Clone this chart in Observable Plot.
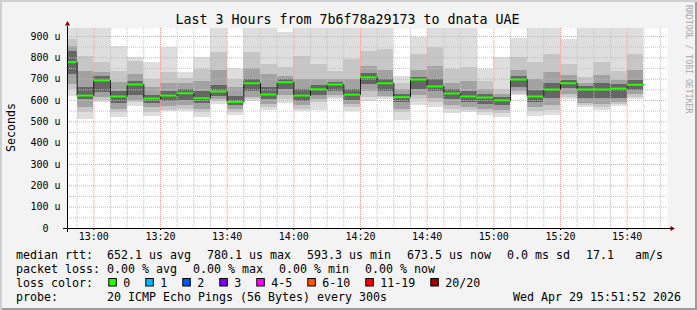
<!DOCTYPE html>
<html><head><meta charset="utf-8">
<script src="https://cdn.jsdelivr.net/npm/d3@7"></script>
<script src="https://cdn.jsdelivr.net/npm/@observablehq/plot@0.6"></script>
<style>
html,body{margin:0;padding:0;background:#fff;}
#wrap{position:relative;width:697px;height:310px;background:#f3f3f3;overflow:hidden;
 box-shadow: inset 2px 2px 0 #cfcfcf, inset -2px -2px 0 #9c9c9c;}
#wrap svg{position:absolute;left:0;top:0;}
svg text{white-space:pre;}
</style></head><body><div id="wrap"></div>
<script>
// ---- data ----
const barEnd = ["12:55","13:00","13:05","13:10","13:15","13:20","13:25","13:30","13:35","13:40",
  "13:45","13:50","13:55","14:00","14:05","14:10","14:15","14:20","14:25","14:30",
  "14:35","14:40","14:45","14:50","14:55","15:00","15:05","15:10","15:15","15:20",
  "15:25","15:30","15:35","15:40","15:45"];
const medianRtt = [780.1,623,694,619,675,609,623,634,611,642,593.3,681,628,686,623,653,675,627,709,681,
  616,698,666,633,619,614,601,698,619,652,681,652,652,656,673.5];
const pingMax = [940,940,940,855,803,780,850,730,803,940,750,940,940,917,940,940,940,940,940,940,
  714,897,940,940,940,745,800,891,940,940,886,940,940,940,940];
const upper1 = [886,808,777,737,784,700,730,705,745,823,698,823,770,753,808,769,737,792,831,839,
  680,816,847,745,753,690,652,800,777,816,769,706,780,737,816];
const upper2 = [855,737,730,683,722,660,680,680,690,740,660,750,722,714,700,700,700,700,761,740,
  650,740,760,680,690,650,630,740,700,730,715,680,715,695,740];
const upper3 = [831,659,712,640,690,625,640,650,640,670,620,700,660,700,650,670,685,650,725,700,
  630,710,700,650,640,630,615,712,645,680,695,665,680,675,695];
const lower3 = [722,605,636,585,625,585,595,600,585,620,575,640,605,652,595,625,640,600,675,640,
  590,650,640,605,590,580,575,660,590,610,655,610,610,610,645];
const lower2 = [675,566,612,560,600,565,570,575,560,605,560,615,580,625,575,605,625,580,640,620,
  560,625,610,575,568,560,555,640,565,575,630,585,580,590,630];
const lower1 = [651,542,600,542,589,545,555,560,545,595,545,605,565,605,560,590,615,565,615,612,
  545,605,590,560,555,545,540,630,548,555,615,575,565,580,615];
const pingMin = [620,511,589,522,573,527,547,547,519,581,531,594,553,584,550,553,605,547,594,605,
  506,578,566,537,542,531,522,625,527,531,605,569,553,573,605];

const xTickLabels = ["13:00","13:20","13:40","14:00","14:20","14:40","15:00","15:20","15:40"];
const yTickValues = [0,100,200,300,400,500,600,700,800,900];
const yTickLabels = ["0  ","100 u","200 u","300 u","400 u","500 u","600 u","700 u","800 u","900 u"];

const lossLabels = ["0","1","2","3","4-5","6-10","11-19","20/20"];
const lossColors = ["#26ff00","#00b8ff","#0059ff","#7e00ff","#ff00ff","#ff5500","#ff0000","#a10000"];

const title = "Last 3 Hours from 7b6f78a29173 to dnata UAE";
const line1 = ["median rtt:  652.1 us avg","780.1 us max","593.3 us min","673.5 us now","0.0 ms sd","17.1   am/s"];
const line2 = ["packet loss: 0.00 % avg","0.00 % max","0.00 % min","0.00 % now"];
const probe = "probe:       20 ICMP Echo Pings (56 Bytes) every 300s";
const stamp = "Wed Apr 29 15:51:52 2026";

// ---- build ----
const T = (s, sec=0) => { const [h,m] = s.split(":").map(Number); return new Date(Date.UTC(2026,3,29,h,m,sec)); };
const xStart = T("12:52",6), xEnd = T("15:52",6);
const STEP = 5*60*1000;
const rows = barEnd.map((s,i) => {
  const e = T(s);
  return {t0: new Date(Math.max(+e-STEP, +xStart)), t1: e, med: medianRtt[i],
    max: pingMax[i], min: pingMin[i], u1: upper1[i], u2: upper2[i], u3: upper3[i],
    l1: lower1[i], l2: lower2[i], l3: lower3[i]};
});
const stepPts = rows.map(r => ({t: r.t0, v: r.med})).concat([{t: rows[rows.length-1].t1, v: rows[rows.length-1].med}]);
const xTicks = xTickLabels.map(s => T(s));
const allX = d3.utcMinute.every(5).range(T("12:55"), xEnd);
const majorX = allX.filter(d => d.getUTCMinutes() % 20 === 0);
const minorX = allX.filter(d => d.getUTCMinutes() % 20 !== 0);
const majorY = d3.range(100, 901, 100);
const minorY = d3.range(50, 901, 100);

const band = (y1, y2, fill) => Plot.rect(rows, {x1:"t0", x2:"t1", y1, y2, fill, shapeRendering:"crispEdges"});

const plot = Plot.plot({
  width: 697, height: 310,
  marginLeft: 67, marginRight: 30, marginTop: 28, marginBottom: 82,
  style: {background:"transparent", fontFamily:"'DejaVu Sans Mono', monospace", fontSize:"10px", color:"#000", overflow:"visible"},
  x: {type:"utc", domain:[xStart, xEnd], ticks: xTicks,
      tickFormat: d => xTickLabels[xTicks.findIndex(t => +t === +d)], tickSize: 2, tickPadding: 2, label: null},
  y: {domain:[0, 937.5], clamp: true, ticks: yTickValues,
      tickFormat: d => yTickLabels[yTickValues.indexOf(d)], tickSize: 0, tickPadding: 7, label: null},
  marks: [
    Plot.frame({fill:"#ffffff", stroke:"none"}),
    band("min","max","#dedede"),
    band("l1","u1","#c6c6c6"),
    band("l2","u2","#a2a2a2"),
    band("l3","u3","#666666"),
    Plot.ruleY(minorY, {stroke:"#c4c4c4", strokeDasharray:"1,1"}),
    Plot.ruleX(minorX, {stroke:"#c4c4c4", strokeDasharray:"1,1"}),
    Plot.ruleY(majorY, {stroke:"#eea0a0", strokeDasharray:"1,1"}),
    Plot.ruleX(majorX, {stroke:"#eea0a0", strokeDasharray:"1,1"}),
    Plot.line(stepPts, {x:"t", y:"v", curve:"step-after", stroke:"#000", strokeWidth:1, strokeDasharray:"1,1"}),
    Plot.ruleY(rows, {x1:"t0", x2:"t1", y:"med", stroke:"#26ff00", strokeWidth:2}),
    Plot.ruleY([0], {stroke:"#000", insetLeft:-4, insetRight:-4}),
    Plot.ruleX([xStart], {stroke:"#000", insetTop:-2, insetBottom:-4}),
    Plot.dot([{t:xStart, v:937.5}], {x:"t", y:"v", symbol:"triangle", r:1.9, fill:"#800000", stroke:"none", dy:-4.5}),
    Plot.dot([{t:xEnd, v:0}], {x:"t", y:"v", symbol:"triangle", rotate:90, r:1.9, fill:"#800000", stroke:"none", dx:4.5})
  ]
});
document.getElementById("wrap").appendChild(plot);

// ---- texts & legend ----
const svg = d3.select(plot);
const g = svg.append("g").attr("font-family","'DejaVu Sans Mono', monospace").attr("fill","#000").attr("text-anchor","start");
g.append("text").attr("x",347.5).attr("y",24).attr("text-anchor","middle").attr("font-size","13.3px").text(title);
g.append("text").attr("transform","translate(15,127.5) rotate(-90)").attr("text-anchor","middle").attr("font-size","11.63px").text("Seconds");
g.append("text").attr("transform","translate(685.5,5) rotate(90)").attr("text-anchor","start").attr("font-size","8.2px").attr("fill","#a8a8a8").text("RRDTOOL / TOBI OETIKER");

const CW = 7.0, LX = 16, FS = "11.63px";
function chunks(y, arr, gap) {
  let x = LX;
  for (const s of arr) {
    g.append("text").attr("x", x).attr("y", y).attr("text-anchor","start").attr("font-size", FS).text(s);
    x += s.length*CW + gap;
  }
}
chunks(258.5, line1, 16);
chunks(272.5, line2, 16);
// loss colour legend
g.append("text").attr("x", LX).attr("y", 286.5).attr("text-anchor","start").attr("font-size", FS).text("loss color:");
let bx = LX + 11*CW + 15.3;
lossLabels.forEach((lab, i) => {
  g.append("rect").attr("x", bx+0.5).attr("y", 278.5).attr("width", 7.5).attr("height", 7.5)
    .attr("fill", lossColors[i]).attr("stroke", "#000").attr("stroke-width", 1);
  g.append("text").attr("x", bx+15).attr("y", 286.5).attr("text-anchor","start").attr("font-size", FS).text(lab);
  bx = bx + 15 + lab.length*CW + 15;
});
g.append("text").attr("x", LX).attr("y", 300.5).attr("text-anchor","start").attr("font-size", FS).text(probe);
g.append("text").attr("x", 681).attr("y", 300.5).attr("text-anchor","end").attr("font-size", FS).text(stamp);
</script></body></html>
